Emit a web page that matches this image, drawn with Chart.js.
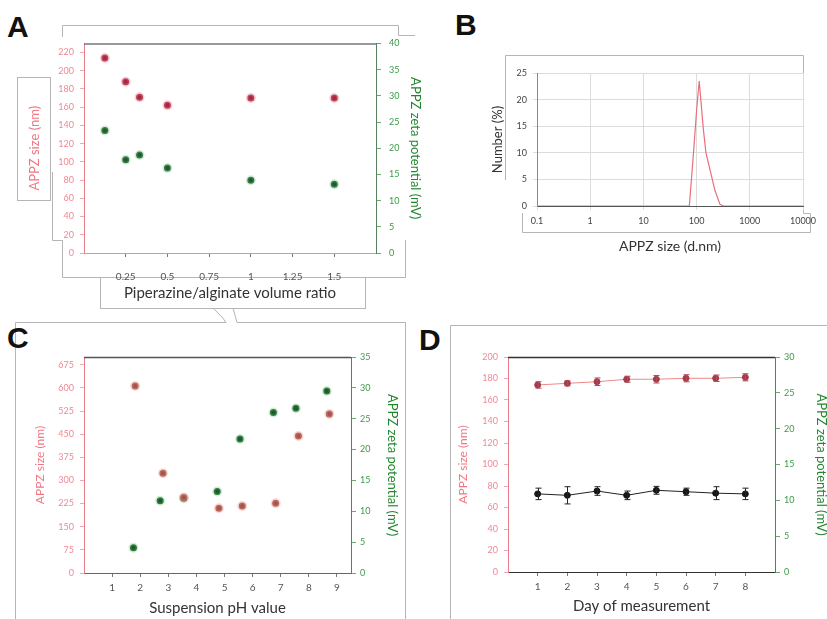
<!DOCTYPE html>
<html>
<head>
<meta charset="utf-8">
<script src="https://cdn.jsdelivr.net/npm/chart.js@4.4.1/dist/chart.umd.min.js"></script>
<style>
  html, body { margin: 0; padding: 0; background: #fff; width: 827px; height: 619px; overflow: hidden; }
  canvas { position: absolute; }
  svg { position: absolute; left: 0; top: 0; }
</style>
</head>
<body>
<svg width="827" height="619">
  <g fill="none" stroke="#b5b5b5" stroke-width="1">
    <!-- panel outlines -->
    <path d="M62.5 37 V25.5 H398.5 V35.5 H415" />
    <rect x="17.5" y="77.5" width="33" height="123" />
    <path d="M52.5 172 V240.5 H62.5 V277.5 H100" />
    <rect x="100.5" y="277.5" width="265" height="31" />
    <path d="M365 277.5 H405.5 V240" />
    <path d="M213 308 L222 317 L226 322.5" />
    <path d="M233 308 L237 322.5" />
    <path d="M15.5 619 V322.5 H226 M237 322.5 H405.5 V619" />
    <path d="M450.5 619 V325.5 H827" />
    <path d="M505.5 180 V55.5 H803.5 V213.5 H810.5 V232.5 H522.5 V213" />
  </g>
  <g font-family="Liberation Sans, Arial, sans-serif" font-weight="bold" font-size="30" fill="#111">
    <text x="7" y="37">A</text>
    <text x="455" y="35">B</text>
    <text x="7" y="348">C</text>
    <text x="419" y="350">D</text>
  </g>
</svg>
<canvas id="chartA" width="410" height="275" style="left:20px;top:30px"></canvas>
<canvas id="chartB" width="338" height="200" style="left:485px;top:60px"></canvas>
<canvas id="chartC" width="390" height="279" style="left:20px;top:340px"></canvas>
<canvas id="chartD" width="385" height="279" style="left:450px;top:340px"></canvas>
<script>
// A: effect of piperazine/alginate volume ratio
const ratioA = [0.125, 0.25, 0.333, 0.5, 1, 1.5];
const sizeA = [214, 188, 171, 162, 170, 170];
const zetaA = [23.4, 17.8, 18.7, 16.2, 13.9, 13.1];
const ratioTicks = [0.25, 0.5, 0.75, 1, 1.25, 1.5];

// B: number size distribution (DLS)
const sizeB = [0.1, 1, 10, 60, 73, 89, 100, 112, 134, 150, 179, 220, 275, 320, 1000, 10000];
const numberB = [0, 0, 0, 0, 0, 11, 18, 23.5, 14.4, 10, 6.8, 3, 0.3, 0, 0, 0];
const decadeTicks = [0.1, 1, 10, 100, 1000, 10000];

// C: effect of suspension pH
const phSizeC = [1.82, 2.81, 3.55, 4.8, 5.63, 6.82, 7.63, 8.73];
const sizeC = [606, 323, 245, 210, 217, 226, 444, 515];
const phZetaC = [1.76, 2.71, 3.55, 4.74, 5.55, 6.74, 7.54, 8.64];
const zetaC = [4.1, 11.7, 12.1, 13.2, 21.7, 26.0, 26.7, 29.5];
const phTicks = [1, 2, 3, 4, 5, 6, 7, 8, 9];

// D: stability over days
const days = [1, 2, 3, 4, 5, 6, 7, 8];
const sizeD = [174, 175.5, 177, 179.3, 179.3, 180.2, 180.2, 181.1];
const sizeDErr = [3, 2.3, 3.5, 2.8, 3.5, 3.3, 3, 3.3];
const zetaD = [10.9, 10.7, 11.3, 10.7, 11.4, 11.2, 11.0, 10.9];
const zetaDErr = [0.8, 1.2, 0.6, 0.6, 0.55, 0.5, 0.9, 0.8];

Chart.defaults.font.family = 'Lato, "Open Sans", sans-serif';
Chart.defaults.animation = false;
Chart.defaults.responsive = false;
Chart.defaults.plugins.legend.display = false;
Chart.defaults.plugins.tooltip.enabled = false;

const PINK = '#f08894';
const PINK_T = '#f07682';
const GREEN = '#3a9a48';
const GREEN_T = '#23862f';

const pts = (xs, ys) => xs.map((x, i) => ({ x, y: ys[i] }));
const setW = (w) => (s) => { s.width = w; };
const setH = (h) => (s) => { s.height = h; };
const useTicks = (list) => (s) => { s.ticks = list.map((v) => ({ value: v })); };

// Draws the top edge of the plot box (the axes draw the other sides).
const topEdge = {
  id: 'topEdge',
  afterDraw(chart, args, opts) {
    if (!opts.color) return;
    const { ctx, chartArea: a } = chart;
    ctx.save();
    ctx.strokeStyle = opts.color;
    ctx.lineWidth = opts.width || 1;
    ctx.beginPath();
    ctx.moveTo(a.left, a.top + 0.5);
    ctx.lineTo(a.right, a.top + 0.5);
    ctx.stroke();
    ctx.restore();
  },
};

// Vertical error bars taken from dataset.errors.
const errorBars = {
  id: 'errorBars',
  afterDatasetsDraw(chart) {
    const ctx = chart.ctx;
    chart.data.datasets.forEach((ds) => {
      if (!ds.errors) return;
      const xs = chart.scales.x;
      const ys = chart.scales[ds.yAxisID];
      ctx.save();
      ctx.strokeStyle = ds.errColor || ds.borderColor;
      ctx.lineWidth = 1;
      ds.data.forEach((p, i) => {
        const px = Math.round(xs.getPixelForValue(p.x)) + 0.5;
        const lo = ys.getPixelForValue(p.y - ds.errors[i]);
        const hi = ys.getPixelForValue(p.y + ds.errors[i]);
        ctx.beginPath();
        ctx.moveTo(px, lo); ctx.lineTo(px, hi);
        ctx.moveTo(px - 3, lo); ctx.lineTo(px + 3, lo);
        ctx.moveTo(px - 3, hi); ctx.lineTo(px + 3, hi);
        ctx.stroke();
      });
      ctx.restore();
    });
  },
};

function sizeAxis(max, step, width, titlePad, titleSize) {
  return {
    position: 'left', min: 0, max,
    ticks: { stepSize: step, includeBounds: false, color: PINK, font: { size: 9 }, padding: 6 },
    grid: { drawOnChartArea: false, tickLength: 4, color: '#f2a6ae' },
    border: { color: '#ea7d8a' },
    title: { display: true, text: 'APPZ size (nm)', color: PINK_T, font: { size: titleSize }, padding: { top: titlePad, bottom: 0 } },
    afterFit: setW(width),
  };
}

function zetaAxis(max, width, titlePad, tickPad) {
  return {
    position: 'right', min: 0, max,
    ticks: { stepSize: 5, includeBounds: false, color: GREEN, font: { size: 9 }, padding: tickPad },
    grid: { drawOnChartArea: false, tickLength: 5, color: '#6aa86f' },
    border: { color: '#55805a' },
    title: { display: true, text: 'APPZ zeta potential (mV)', color: GREEN_T, font: { size: 13 }, padding: { top: titlePad, bottom: 0 } },
    afterFit: setW(width),
  };
}

function xAxis(min, max, list, title, height, tickPad, titlePad, size) {
  return {
    type: 'linear', min, max,
    afterBuildTicks: useTicks(list),
    ticks: { color: '#555', font: { size: 10 }, padding: tickPad, autoSkip: false, maxRotation: 0, callback: (v) => String(v) },
    grid: { drawOnChartArea: false, tickLength: 4, color: '#777' },
    border: { color: '#666' },
    title: { display: true, text: title, color: '#333', font: { size }, padding: { top: 0, bottom: titlePad } },
    afterFit: setH(height),
  };
}

// Panel A
new Chart(document.getElementById('chartA'), {
  type: 'scatter',
  data: {
    datasets: [
      { data: pts(ratioA, sizeA), yAxisID: 'y', pointRadius: 3.5, pointBackgroundColor: '#a4283e', pointBorderColor: 'rgba(240,120,140,0.35)', pointBorderWidth: 3 },
      { data: pts(ratioA, zetaA), yAxisID: 'y1', pointRadius: 3.5, pointBackgroundColor: '#1f5a2e', pointBorderColor: 'rgba(120,200,130,0.3)', pointBorderWidth: 3 },
    ],
  },
  options: {
    layout: { padding: { top: 10, left: 0, right: 0, bottom: 0 } },
    plugins: { topEdge: { color: '#777', width: 1.5 } },
    scales: {
      x: Object.assign(xAxis(0, 1.75, ratioTicks, 'Piperazine/alginate volume ratio', 52, 14, 3, 15), { border: { color: '#aaa' } }),
      y: sizeAxis(230, 20, 64, 7, 13),
      y1: zetaAxis(40, 54, 7, 8),
    },
  },
  plugins: [topEdge],
});

// Panel B
new Chart(document.getElementById('chartB'), {
  type: 'scatter',
  data: {
    datasets: [
      { data: pts(sizeB, numberB), showLine: true, borderColor: '#e8707a', borderWidth: 1.2, pointRadius: 0, tension: 0 },
    ],
  },
  options: {
    layout: { padding: { top: 13, left: 0, right: 20, bottom: 0 } },
    scales: {
      x: {
        type: 'logarithmic', min: 0.1, max: 10000,
        afterBuildTicks: useTicks(decadeTicks),
        ticks: { color: '#444', font: { size: 9 }, padding: 6, autoSkip: false, maxRotation: 0, callback: (v) => String(v) },
        grid: { color: '#dcdcdc', tickLength: 4 },
        border: { color: '#555' },
        title: { display: true, text: 'APPZ size (d.nm)', color: '#333', font: { size: 14 }, padding: { top: 0, bottom: 5 } },
        afterFit: setH(54),
      },
      y: {
        min: 0, max: 25,
        ticks: { stepSize: 5, color: '#444', font: { size: 9 }, padding: 6 },
        grid: { color: '#dcdcdc', tickLength: 4 },
        border: { color: '#888' },
        title: { display: true, text: 'Number (%)', color: '#333', font: { size: 13 }, padding: { top: 5, bottom: 0 } },
        afterFit: setW(52),
      },
    },
  },
});

// Panel C
new Chart(document.getElementById('chartC'), {
  type: 'scatter',
  data: {
    datasets: [
      { data: pts(phSizeC, sizeC), yAxisID: 'y', pointRadius: 3.5, pointBackgroundColor: '#a0564e', pointBorderColor: 'rgba(240,140,130,0.35)', pointBorderWidth: 3 },
      { data: pts(phZetaC, zetaC), yAxisID: 'y1', pointRadius: 3.5, pointBackgroundColor: '#1b5a2a', pointBorderColor: 'rgba(110,200,120,0.3)', pointBorderWidth: 3 },
    ],
  },
  options: {
    layout: { padding: { top: 17, left: 0, right: 0, bottom: 0 } },
    plugins: { topEdge: { color: '#555', width: 1.5 } },
    scales: {
      x: xAxis(0, 9.5, phTicks, 'Suspension pH value', 46, 5, 2, 15),
      y: sizeAxis(700, 75, 64, 13, 12),
      y1: zetaAxis(35, 59, 10, 4),
    },
  },
  plugins: [topEdge],
});

// Panel D
new Chart(document.getElementById('chartD'), {
  type: 'scatter',
  data: {
    datasets: [
      { data: pts(days, sizeD), yAxisID: 'y', showLine: true, borderColor: '#ec8a8a', borderWidth: 1, errColor: '#b04a55', errors: sizeDErr, pointRadius: 3, pointBackgroundColor: '#a63a4a', pointBorderColor: '#a63a4a' },
      { data: pts(days, zetaD), yAxisID: 'y1', showLine: true, borderColor: '#222', borderWidth: 1, errors: zetaDErr, pointRadius: 3, pointBackgroundColor: '#161616', pointBorderColor: '#161616' },
    ],
  },
  options: {
    layout: { padding: { top: 17, left: 0, right: 0, bottom: 0 } },
    plugins: { topEdge: { color: '#333', width: 1.5 } },
    scales: {
      x: Object.assign(xAxis(0, 9, days, 'Day of measurement', 47, 5, 4, 15), { border: { color: '#333' } }),
      y: sizeAxis(200, 20, 58, 6, 12),
      y1: zetaAxis(30, 60, 6, 4),
    },
  },
  plugins: [topEdge, errorBars],
});
</script>
</body>
</html>
